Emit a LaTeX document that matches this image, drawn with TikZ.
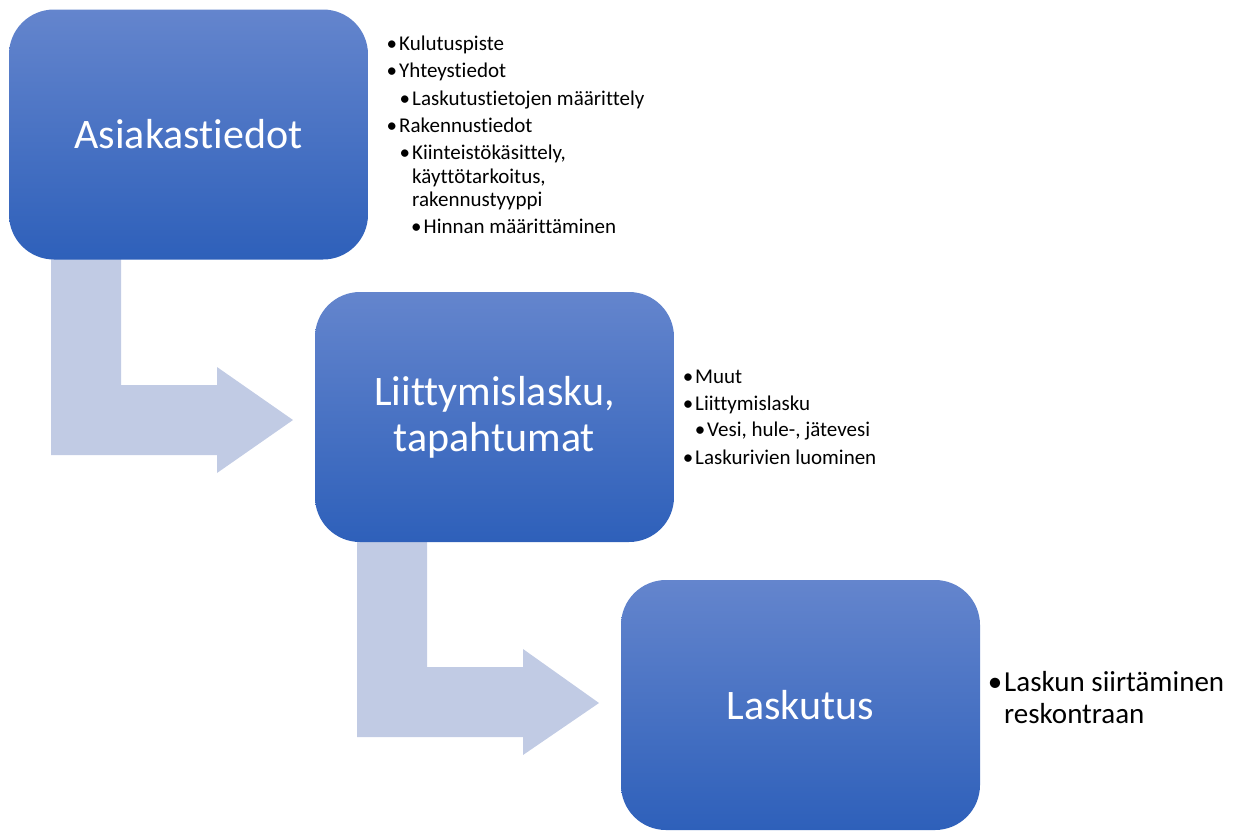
\documentclass[tikz,border=0pt]{standalone}
\usepackage{fontspec}
\setmainfont{Carlito}[Ligatures={NoCommon,NoRequired,NoContextual}]
\definecolor{boxtop}{RGB}{100,133,205}
\definecolor{boxbot}{RGB}{46,96,186}
\definecolor{arrowfill}{RGB}{193,203,228}
\newcommand{\bulmark}{\llap{•\hspace{2pt}}}
\begin{document}
\begin{tikzpicture}[x=1pt,y=-1pt,
  stepbox/.style={rectangle, rounded corners=45pt, minimum width=359pt, minimum height=250pt,
    top color=boxtop, bottom color=boxbot, draw=none, inner sep=0pt, text=white,
    font=\fontsize{42}{46}\selectfont, align=center},
  bentarrow/.style={fill=arrowfill, draw=none},
  bul/.style={anchor=base west, inner sep=0pt, font=\fontsize{21}{24}\selectfont},
  bulbig/.style={anchor=base west, inner sep=0pt, font=\fontsize{29}{32}\selectfont}]
\useasboundingbox (0,0) rectangle (1241,830);

% bent arrows (beneath boxes)
\fill[bentarrow] (51,250) -- (121,250) -- (121,385) -- (217,385) -- (217,367) -- (293,420)
  -- (217,473) -- (217,455) -- (51,455) -- cycle;
\fill[bentarrow] (357,532) -- (427,532) -- (427,667) -- (523,667) -- (523,649) -- (599,703)
  -- (523,755) -- (523,737) -- (357,737) -- cycle;

% boxes
\node[stepbox] (asiakas) at (188.5,134.5) {Asiakastiedot};
\node[stepbox] (liitt) at (494.5,417) {Liittymislasku,\\tapahtumat};
\node[stepbox] (lask) at (800.5,705) {Laskutus};

% bullets box 1
\node[bul] (t1) at (399,50) {\bulmark Kulutuspiste};
\node[bul] (t2) at (399,77.3) {\bulmark Yhteystiedot};
\node[bul] (t3) at (412,105) {\bulmark Laskutustietojen määrittely};
\node[bul] (t4) at (399,132.3) {\bulmark Rakennustiedot};
\node[bul] (t5) at (412,159) {\bulmark Kiinteistökäsittely,};
\node[bul] (t6) at (412,183.3) {käyttötarkoitus,};
\node[bul] (t7) at (412,206.7) {rakennustyyppi};
\node[bul] (t8) at (423.5,233.3) {\bulmark Hinnan määrittäminen};

% bullets box 2
\node[bul] (u1) at (695,383.3) {\bulmark Muut};
\node[bul] (u2) at (695,410) {\bulmark Liittymislasku};
\node[bul] (u3) at (707,436.7) {\bulmark Vesi, hule-, jätevesi};
\node[bul] (u4) at (695,464.3) {\bulmark Laskurivien luominen};

% bullets box 3
\node[bulbig] (v1) at (1004,691.7) {\llap{•\hspace{2pt}}Laskun siirtäminen};
\node[bulbig] (v2) at (1004,723.3) {reskontraan};
\end{tikzpicture}
\end{document}
